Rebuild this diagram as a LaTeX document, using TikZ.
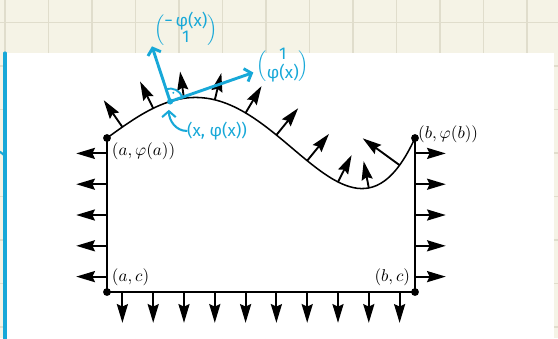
\documentclass[tikz,border=0pt]{standalone}
\usepackage{fontspec}
\newfontfamily\handfont{Fira Sans}
\usetikzlibrary{arrows.meta}
\definecolor{paper}{HTML}{F5F3E6}
\definecolor{paperGrid}{HTML}{E0DDCC}
\definecolor{handBlue}{HTML}{17A8D8}
\definecolor{inkText}{HTML}{000000}

\newcommand{\colvec}[2]{{\renewcommand{\arraystretch}{0.75}%
  $\Big(\begin{tabular}{@{}c@{}}#1\\#2\end{tabular}\Big)$}}

\begin{document}
\begin{tikzpicture}[
  x=0.635cm, y=0.635cm,
  every node/.style={text=inkText},
  declare function={
    phi(\x)=5+(\x/10)*(1-\x/10)*(7.22+7.83*(\x/10)-36.8*(\x/10)^2);
    dphi(\x)=(7.22+1.22*(\x/10)-133.89*(\x/10)^2+147.2*(\x/10)^3)/10;
  },
  gridline/.style={draw=paperGrid, line width=0.9pt},
  rim/.style={line width=0.75pt},
  curve/.style={line width=0.9pt},
  nrm/.style={-{Stealth[length=11pt,width=6.5pt,inset=1.5pt]}, line width=1.1pt},
  pointdot/.style={circle, fill, inner sep=0pt, minimum size=4.6pt},
  lbl/.style={inner sep=1.2pt},
  hand/.style={draw=handBlue, line width=1.7pt, line cap=round, line join=round},
  handarrow/.style={hand, -{Straight Barb[length=3.5pt,width=8pt]}},
  handtext/.style={text=handBlue, font=\handfont, inner sep=0pt},
]
\useasboundingbox (-3.474,-1.494) rectangle (14.643,9.481);

% ---------------- PAPER (grid + white sheet) ----------------
\fill[paper] (-3.474,-1.494) rectangle (14.643,9.481);
\foreach \k in {0,...,12}
  \draw[gridline] ({-3.318+1.4123*\k},-1.494) -- ++(0,10.975);
\foreach \k in {0,...,7}
  \draw[gridline] (-3.474,{8.744-1.4123*\k}) -- ++(18.117,0);
\fill[white] (-3.247,-1.494) rectangle (14.513,7.77);
\draw[hand, line width=1.8pt] (-3.312,7.76) -- (-3.312,-1.6);
\draw[hand, line width=1.2pt] (-3.474,4.555) -- (-3.344,4.448);

% ---------------- REGION ----------------
\coordinate (AC) at (0,0);
\coordinate (BC) at (10,0);
\coordinate (APhi) at (0,5);
\coordinate (BPhi) at (10,5);

\draw[rim] (APhi) -- (AC) -- (BC) -- (BPhi);
\draw[curve] plot[domain=0:10, samples=81, smooth] (\x,{phi(\x)});

% outward normals
\foreach \y in {0.5,1.5,...,4.5} {
  \draw[nrm] (0,\y) -- ++(-1,0);
  \draw[nrm] (10,\y) -- ++(1,0);
}
\foreach \x in {0.5,1.5,...,9.5} {
  \draw[nrm] (\x,0) -- ++(0,-1);
  \draw[nrm] (\x,{phi(\x)}) -- ++({-0.87*dphi(\x)},0.87);
}

\node[pointdot] (dAC) at (AC) {};
\node[pointdot] (dBC) at (BC) {};
\node[pointdot] (dAPhi) at (APhi) {};
\node[pointdot] (dBPhi) at (BPhi) {};

\node[lbl, anchor=south west, xshift=1.5pt, yshift=2pt] (lAC) at (AC) {$(a,c)$};
\node[lbl, anchor=south east, xshift=-1.5pt, yshift=2pt] (lBC) at (BC) {$(b,c)$};
\node[lbl, anchor=north west, xshift=1.5pt, yshift=-1.5pt] (lAPhi) at (APhi) {$(a,\varphi(a))$};
\node[lbl, anchor=west, xshift=0.5pt, yshift=2.2pt] (lBPhi) at (BPhi) {$(b,\varphi(b))$};

% ---------------- HAND NOTES ----------------
\coordinate (P) at (2.05,{phi(2.05)});
\draw[handarrow] (P) -- ++(-0.59,1.79) coordinate (Ntip);
\draw[handarrow] (P) -- ++(2.7,0.94) coordinate (Ttip);
\draw[hand, line width=1.1pt] ([shift={(19:0.42)}]P) arc[start angle=19, end angle=108, radius=0.42];
\fill[handBlue] ([shift={(70:0.3)}]P) circle (0.035);
\node[pointdot, fill=handBlue, minimum size=3.6pt] (dP) at (P) {};

\node[handtext] (nvec) at (2.56,8.51) {\colvec{−\,φ(x)}{1}};
\node[handtext] (tvec) at (5.71,7.34) {\colvec{1}{φ(x)}};
\node[handtext] (plab) at (3.57,5.23) {(x, φ(x))};
\draw[handarrow, line width=1.2pt] (plab.west) to[out=180, in=-90] ([shift={(-0.04,-0.27)}]P);
\end{tikzpicture}
\end{document}
